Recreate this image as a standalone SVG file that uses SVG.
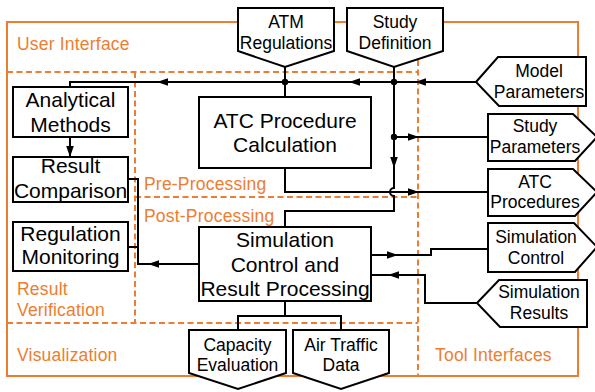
<svg xmlns="http://www.w3.org/2000/svg" xmlns:xlink="http://www.w3.org/1999/xlink" width="595" height="392" viewBox="0 0 595 392">
  <style>
    .frame { fill: none; stroke: #ED7D31; stroke-width: 2; }
    .dash { fill: none; stroke: #ED7D31; stroke-width: 2; stroke-dasharray: 6 3.5; }
    .area { font-family: "Liberation Sans", Arial, sans-serif; font-size: 17.5px; fill: #ED7D31; letter-spacing: 0.2px; }
    .box { fill: #fff; stroke: #000; stroke-width: 2; }
    .big { font-family: "Liberation Sans", Arial, sans-serif; font-size: 21px; fill: #000; text-anchor: middle; }
    .small { font-family: "Liberation Sans", Arial, sans-serif; font-size: 17.5px; fill: #000; text-anchor: middle; }
    .wire { fill: none; stroke: #000; stroke-width: 2; }
    .dot { fill: #000; }
  </style>
  <defs>
    <!-- arrowhead with its tip at the origin, pointing along +x -->
    <path id="ah" d="M0,0 L-11,-3.8 L-11,3.8 Z" fill="#000"/>
  </defs>

  <!-- layer outlines -->
  <g id="areas">
    <rect class="frame" x="7" y="22" width="571" height="354"/>
    <path class="dash" d="M7,72 H418 M418,22 V376 M135,72 V323 M7,323 H418 M135,197 H418"/>
    <text class="area" x="17" y="50">User Interface</text>
    <text class="area" x="144" y="190">Pre-Processing</text>
    <text class="area" x="144" y="222">Post-Processing</text>
    <text class="area" x="17" y="295">Result</text>
    <text class="area" x="17" y="316">Verification</text>
    <text class="area" x="17" y="361">Visualization</text>
    <text class="area" x="435" y="361">Tool Interfaces</text>
  </g>

  <!-- connectors -->
  <g id="connectors">
    <path class="wire" d="M285,66 V97"/>
    <path class="wire" d="M476,82 H70 V87"/>
    <path class="wire" d="M70,137 V157"/>
    <path class="wire" d="M394,66 V188 a4,4 0 0 0 0,8 V211 H285 V227"/>
    <path class="wire" d="M394,137 H488"/>
    <path class="wire" d="M285,168 V192 H488"/>
    <path class="wire" d="M128,179 H138 V264 H199 M128,247 H138"/>
    <path class="wire" d="M371,255 H431 V249 H488"/>
    <path class="wire" d="M477,303 H425 V275 H371"/>
    <path class="wire" d="M285,301 V316 M238,330 V316 H341 V330"/>
    <circle class="dot" cx="285" cy="82" r="3.2"/>
    <circle class="dot" cx="394" cy="82" r="3.2"/>
    <circle class="dot" cx="394" cy="137" r="3.2"/>
    <use xlink:href="#ah" transform="translate(415,82) rotate(180)"/>
    <use xlink:href="#ah" transform="translate(349,82) rotate(180)"/>
    <use xlink:href="#ah" transform="translate(157,82) rotate(180)"/>
    <use xlink:href="#ah" transform="translate(70,157) rotate(90)"/>
    <use xlink:href="#ah" transform="translate(394,168) rotate(90)"/>
    <use xlink:href="#ah" transform="translate(419,137)"/>
    <use xlink:href="#ah" transform="translate(419,192)"/>
    <use xlink:href="#ah" transform="translate(148,264) rotate(180)"/>
    <use xlink:href="#ah" transform="translate(398,255)"/>
    <use xlink:href="#ah" transform="translate(388,275) rotate(180)"/>
  </g>

  <!-- processing blocks -->
  <g id="analytical-methods">
    <rect class="box" x="13" y="87" width="115" height="50"/>
    <text class="big" x="70.5" y="107">Analytical</text>
    <text class="big" x="70.5" y="132">Methods</text>
  </g>
  <g id="result-comparison">
    <rect class="box" x="13" y="157" width="115" height="45"/>
    <text class="big" x="70.5" y="173">Result</text>
    <text class="big" x="70.5" y="198">Comparison</text>
  </g>
  <g id="regulation-monitoring">
    <rect class="box" x="13" y="222" width="115" height="49"/>
    <text class="big" x="70.5" y="241">Regulation</text>
    <text class="big" x="70.5" y="264">Monitoring</text>
  </g>
  <g id="atc-procedure-calculation">
    <rect class="box" x="199" y="97" width="172" height="71"/>
    <text class="big" x="285" y="128">ATC Procedure</text>
    <text class="big" x="285" y="152">Calculation</text>
  </g>
  <g id="simulation-control">
    <rect class="box" x="199" y="227" width="172" height="74"/>
    <text class="big" x="285" y="247">Simulation</text>
    <text class="big" x="285" y="272">Control and</text>
    <text class="big" x="285" y="296">Result Processing</text>
  </g>

  <!-- user inputs -->
  <g id="atm-regulations">
    <polygon class="box" points="238,8 334,8 334,51 285,67 238,51"/>
    <text class="small" x="286" y="28">ATM</text>
    <text class="small" x="286" y="49">Regulations</text>
  </g>
  <g id="study-definition">
    <polygon class="box" points="347,8 443,8 443,51 394,67 347,51"/>
    <text class="small" x="395" y="28">Study</text>
    <text class="small" x="395" y="49">Definition</text>
  </g>

  <!-- tool interfaces -->
  <g id="model-parameters">
    <polygon class="box" points="476,82 498,57 586,57 586,106 499,106"/>
    <text class="small" x="539" y="77">Model</text>
    <text class="small" x="539" y="98">Parameters</text>
  </g>
  <g id="study-parameters">
    <polygon class="box" points="488,114 573,114 597,137 575,161 488,161"/>
    <text class="small" x="535" y="132">Study</text>
    <text class="small" x="535" y="153">Parameters</text>
  </g>
  <g id="atc-procedures">
    <polygon class="box" points="488,169 573,169 597,192 575,216 488,216"/>
    <text class="small" x="535" y="188">ATC</text>
    <text class="small" x="535" y="208">Procedures</text>
  </g>
  <g id="simulation-control-interface">
    <polygon class="box" points="488,223 574,223 597,247 575,272 488,272"/>
    <text class="small" x="536" y="243">Simulation</text>
    <text class="small" x="536" y="264">Control</text>
  </g>
  <g id="simulation-results">
    <polygon class="box" points="477,303 499,280 587,280 587,327 500,327"/>
    <text class="small" x="539" y="298">Simulation</text>
    <text class="small" x="539" y="319">Results</text>
  </g>

  <!-- visualization outputs -->
  <g id="capacity-evaluation">
    <polygon class="box" points="189,330 286,330 286,373 238,389 189,373"/>
    <text class="small" x="237.5" y="351">Capacity</text>
    <text class="small" x="237.5" y="371">Evaluation</text>
  </g>
  <g id="air-traffic-data">
    <polygon class="box" points="293,330 389,330 389,373 341,389 293,373"/>
    <text class="small" x="341" y="351">Air Traffic</text>
    <text class="small" x="341" y="371">Data</text>
  </g>
</svg>
